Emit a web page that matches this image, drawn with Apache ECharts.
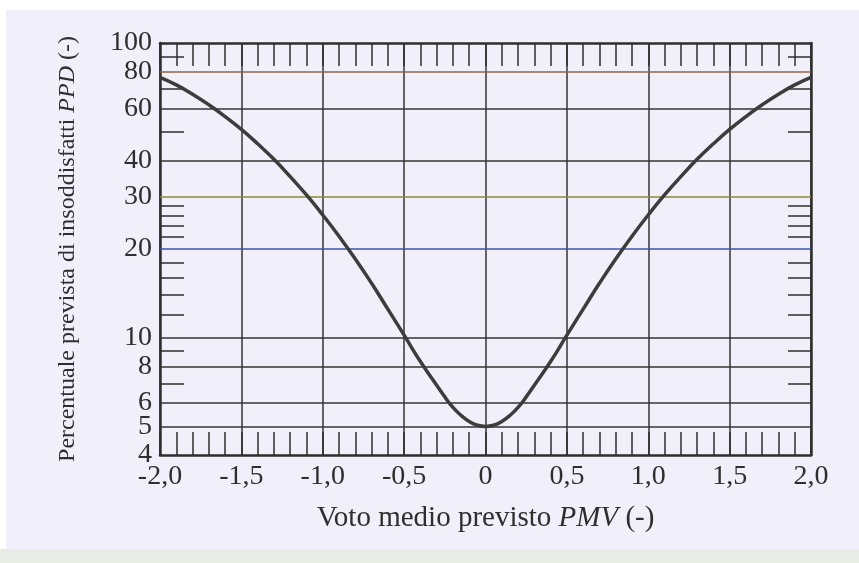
<!DOCTYPE html>
<html>
<head>
<meta charset="utf-8">
<script src="https://cdn.jsdelivr.net/npm/echarts@6/dist/echarts.min.js"></script>
<style>
html,body{margin:0;padding:0;background:#ffffff;}
#c{width:859px;height:563px;}
</style>
</head>
<body>
<div id="c"></div>
<script>
// Data
var pmv = [-2.0,-1.9,-1.8,-1.7,-1.6,-1.5,-1.4,-1.3,-1.2,-1.1,-1.0,-0.9,-0.8,-0.7,-0.6,-0.5,-0.4,-0.3,-0.25,-0.2,-0.15,-0.1,-0.05,
           0.0,0.05,0.1,0.15,0.2,0.25,0.3,0.4,0.5,0.6,0.7,0.8,0.9,1.0,1.1,1.2,1.3,1.4,1.5,1.6,1.7,1.8,1.9,2.0];
var ppd = [76.5,72.1,67.0,61.7,56.3,50.9,45.5,40.3,35.2,30.5,26.1,22.1,18.5,15.3,12.5,10.2,8.3,6.9,6.3,5.8,5.45,5.2,5.05,
           5.0,5.05,5.2,5.45,5.8,6.3,6.9,8.3,10.2,12.5,15.3,18.5,22.1,26.1,30.5,35.2,40.3,45.5,50.9,56.3,61.7,67.0,72.1,76.5];
var yMajorLabels = [4,5,6,8,10,20,30,40,60,80,100];
var yGridValues = [5,6,8,10,20,30,40,60,80];
var yMinorTicks = [90,70,50,28,26,24,22,18,16,14,12,9,7];
var gridColors = {80:'#8a6448',30:'#8c8a3a',20:'#3a56a8'};

var FONT = '"Liberation Serif","DejaVu Serif",serif';
var INK = '#2e2e2e';

var chart = echarts.init(document.getElementById('c'), null, {renderer:'canvas'});

var curveData = pmv.map(function(x,i){return [x, ppd[i]];});
var gridLines = yGridValues.map(function(v){
  return {yAxis:v, lineStyle:{color: gridColors[v] || '#333', width:1.5, type:'solid'}};
});

function xLabel(v){
  if (Math.abs(v) < 1e-9) return '0';
  return v.toFixed(1).replace('.', ',');
}

var axisLineStyle = {color:INK, width:2.5};

chart.setOption({
  backgroundColor:'#f1f0fa',
  animation:false,
  graphic:[
    {type:'rect', shape:{x:0,y:0,width:859,height:10}, style:{fill:'#ffffff'}, z:-10},
    {type:'rect', shape:{x:0,y:0,width:6,height:563}, style:{fill:'#ffffff'}, z:-10},
    {type:'rect', shape:{x:0,y:549,width:859,height:14}, style:{fill:'#eaede6'}, z:-10}
  ],
  grid:{left:160, right:48, top:43, bottom:108},
  xAxis:[
    {
      type:'value', position:'bottom', min:-2, max:2, interval:0.5,
      axisLine:{show:true, lineStyle:axisLineStyle},
      axisTick:{show:true, inside:true, length:23, lineStyle:{color:INK, width:1.5}},
      minorTick:{show:true, splitNumber:5, length:23, lineStyle:{color:INK, width:1.5}},
      splitLine:{show:true, lineStyle:{color:'#333', width:1.5}},
      axisLabel:{show:true, margin:8, formatter:xLabel, fontFamily:FONT, fontSize:28, color:INK},
      name:'{n|Voto medio previsto }{i|PMV}{n| (-)}',
      nameLocation:'middle', nameGap:49,
      nameTextStyle:{
        rich:{
          n:{fontFamily:FONT, fontSize:29, color:INK},
          i:{fontFamily:FONT, fontSize:29, fontStyle:'italic', color:INK}
        }
      }
    },
    {
      type:'value', position:'top', min:-2, max:2, interval:0.5,
      axisLine:{show:true, onZero:false, lineStyle:axisLineStyle},
      axisTick:{show:true, inside:true, length:23, lineStyle:{color:INK, width:1.5}},
      minorTick:{show:true, splitNumber:5, length:23, lineStyle:{color:INK, width:1.5}},
      splitLine:{show:false},
      axisLabel:{show:false}
    }
  ],
  yAxis:[
    {
      type:'log', logBase:10, position:'left', min:4, max:100,
      axisLine:{show:true, onZero:false, lineStyle:axisLineStyle},
      axisTick:{show:true, inside:true, length:24, customValues:yMinorTicks, lineStyle:{color:INK, width:1.5}},
      minorTick:{show:false},
      splitLine:{show:false},
      axisLabel:{show:true, customValues:yMajorLabels, margin:8, fontFamily:FONT, fontSize:28, color:INK,
                 formatter:function(v){return String(Math.round(v));}},
      name:'{n|Percentuale prevista di insoddisfatti }{i|PPD}{n| (-)}',
      nameLocation:'middle', nameGap:80, nameRotate:90,
      nameTextStyle:{
        rich:{
          n:{fontFamily:FONT, fontSize:24, color:INK},
          i:{fontFamily:FONT, fontSize:24, fontStyle:'italic', color:INK}
        }
      }
    },
    {
      type:'log', logBase:10, position:'right', min:4, max:100,
      axisLine:{show:true, onZero:false, lineStyle:axisLineStyle},
      axisTick:{show:true, inside:true, length:23, customValues:yMinorTicks, lineStyle:{color:INK, width:1.5}},
      minorTick:{show:false},
      splitLine:{show:false},
      axisLabel:{show:false}
    }
  ],
  series:[
    {
      name:'grid', type:'line', xAxisIndex:0, yAxisIndex:0, z:1,
      data:curveData, symbol:'none', silent:true,
      lineStyle:{opacity:0, width:0},
      markLine:{silent:true, symbol:'none', label:{show:false}, z:1, data:gridLines, animation:false}
    },
    {
      name:'PPD', type:'line', xAxisIndex:0, yAxisIndex:0, z:5,
      data:curveData, smooth:true, symbol:'none',
      lineStyle:{color:'#3c3c3c', width:3.5}
    }
  ]
});
</script>
</body>
</html>
